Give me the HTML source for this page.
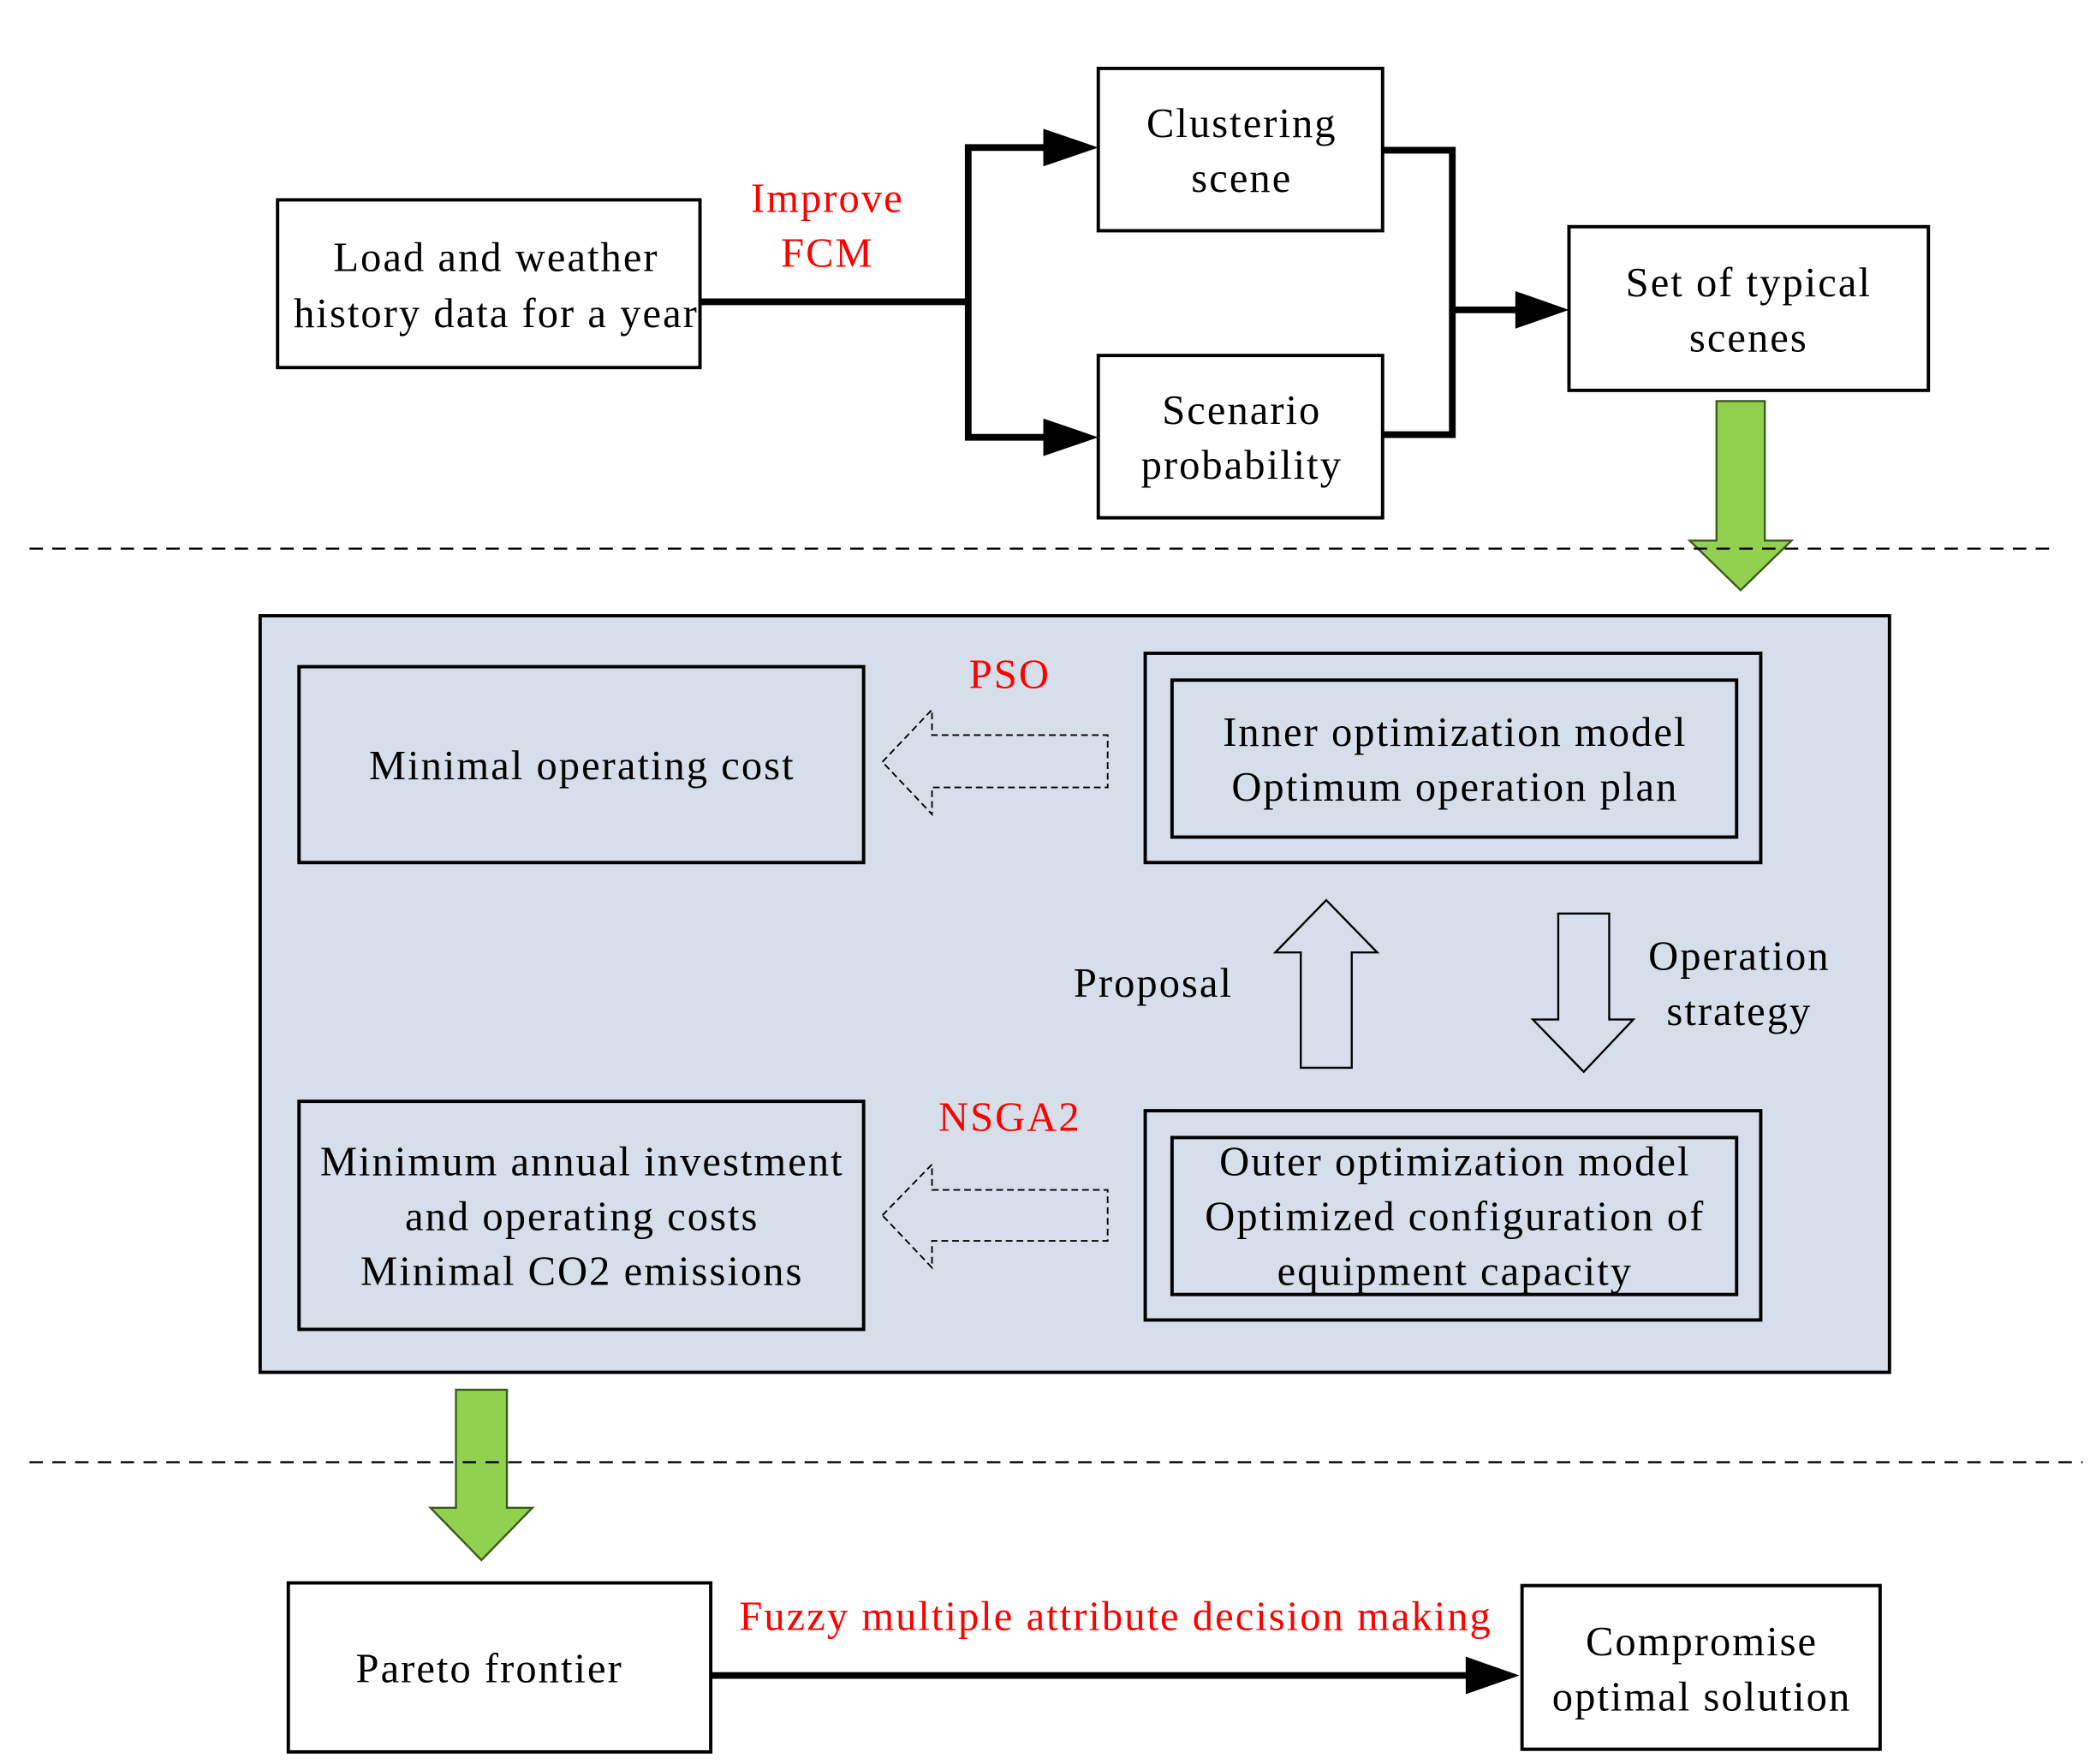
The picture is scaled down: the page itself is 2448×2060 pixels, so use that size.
<!DOCTYPE html>
<html><head><meta charset="utf-8"><style>
html,body{margin:0;padding:0;background:#fff;}
svg{display:block;}
text{font-family:"Liberation Serif",serif;font-size:31px;letter-spacing:1.3px;fill:#000;text-anchor:middle;}
.r{fill:#f00;}
</style></head><body>
<svg width="2448" height="2060" viewBox="0 0 1563 1315" preserveAspectRatio="none" xmlns="http://www.w3.org/2000/svg">
<g fill="none" stroke="#000" stroke-width="2.5">
<rect x="207" y="149" width="315" height="125" fill="#fff"/>
<rect x="819" y="51" width="212" height="121"/>
<rect x="819" y="265" width="212" height="121"/>
<rect x="1170" y="169" width="268" height="122"/>
</g>
<g fill="none" stroke="#000" stroke-width="5">
<polyline points="522,225 722,225"/>
<polyline points="782,110 722,110 722,326 782,326"/>
<polyline points="1031,112 1083,112 1083,324 1031,324"/>
<polyline points="1083,231 1132,231"/>
<polyline points="530,1249 1095,1249"/>
</g>
<g fill="#000">
<polygon points="778,96 819,110 778,124"/>
<polygon points="778,312 819,326 778,340"/>
<polygon points="1130,217 1170,231 1130,245"/>
<polygon points="1093,1235 1133,1249 1093,1263"/>
</g>
<text x="370" y="202">Load and weather</text>
<text x="370" y="244">history data for a year</text>
<text class="r" x="617" y="158">Improve</text>
<text class="r" x="617" y="199">FCM</text>
<text x="926" y="102">Clustering</text>
<text x="926" y="143">scene</text>
<text x="926" y="316">Scenario</text>
<text x="926" y="357">probability</text>
<text x="1304" y="221">Set of typical</text>
<text x="1304" y="262">scenes</text>
<polygon points="1280,299 1316,299 1316,403 1336,403 1298,440 1260,403 1280,403" fill="#92d050" stroke="#3a5a1a" stroke-width="1.5"/>
<line x1="22" y1="409" x2="1530" y2="409" stroke="#000" stroke-width="1.5" stroke-dasharray="10,7"/>
<rect x="194" y="459" width="1215" height="564" fill="#d6dfe9" stroke="#000" stroke-width="2.5"/>
<g fill="none" stroke="#000" stroke-width="2.5">
<rect x="223" y="497" width="421" height="146"/>
<rect x="854" y="487" width="459" height="156"/>
<rect x="874" y="507" width="421" height="117"/>
<rect x="223" y="821" width="421" height="170"/>
<rect x="854" y="828" width="459" height="156"/>
<rect x="874" y="848" width="421" height="117"/>
</g>
<g fill="none" stroke="#000" stroke-width="1.2" stroke-dasharray="5,3">
<polygon points="658,568 695,529 695,548 826,548 826,587 695,587 695,607"/>
<polygon points="658,906 695,868 695,887 826,887 826,925 695,925 695,945"/>
</g>
<g fill="none" stroke="#000" stroke-width="1.5">
<polygon points="989,671 1027,710 1008,710 1008,796 970,796 970,710 951,710"/>
<polygon points="1162,681 1200,681 1200,760 1218,760 1181,799 1143,760 1162,760"/>
</g>
<text x="434" y="581">Minimal operating cost</text>
<text class="r" x="753" y="513">PSO</text>
<text x="1085" y="556">Inner optimization model</text>
<text x="1085" y="597">Optimum operation plan</text>
<text x="860" y="743">Proposal</text>
<text x="1297" y="723">Operation</text>
<text x="1297" y="764">strategy</text>
<text class="r" x="753" y="843">NSGA2</text>
<text x="434" y="876">Minimum annual investment</text>
<text x="434" y="917">and operating costs</text>
<text x="434" y="958">Minimal CO2 emissions</text>
<text x="1085" y="876">Outer optimization model</text>
<text x="1085" y="917">Optimized configuration of</text>
<text x="1085" y="958">equipment capacity</text>
<polygon points="340,1036 378,1036 378,1124 397,1124 359,1163 321,1124 340,1124" fill="#92d050" stroke="#3a5a1a" stroke-width="1.5"/>
<line x1="22" y1="1090" x2="1553" y2="1090" stroke="#000" stroke-width="1.5" stroke-dasharray="10,7"/>
<rect x="215" y="1180" width="315" height="126" fill="none" stroke="#000" stroke-width="2.5"/>
<rect x="1135" y="1182" width="267" height="122" fill="none" stroke="#000" stroke-width="2.5"/>
<text x="365" y="1254">Pareto frontier</text>
<text class="r" x="832" y="1215">Fuzzy multiple attribute decision making</text>
<text x="1269" y="1234">Compromise</text>
<text x="1269" y="1275">optimal solution</text>
</svg>
</body></html>
